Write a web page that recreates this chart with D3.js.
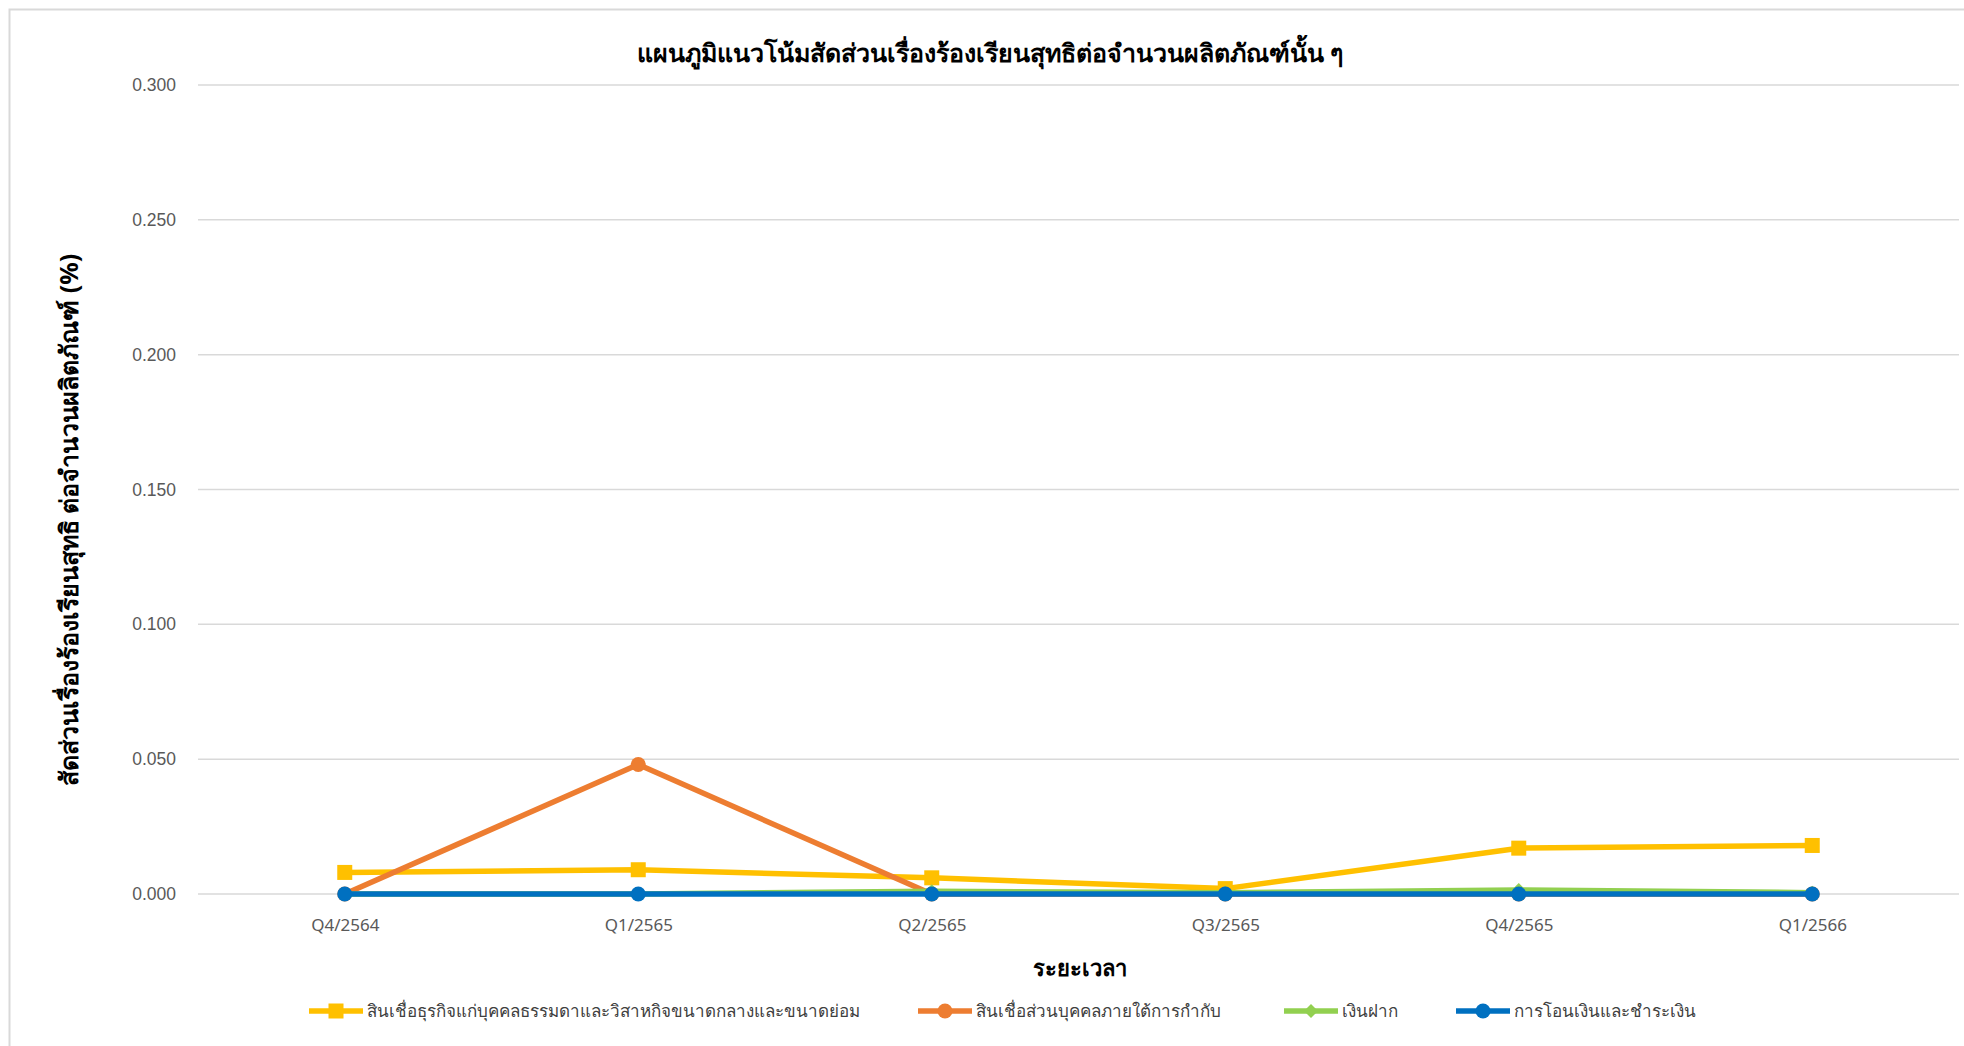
<!DOCTYPE html>
<html>
<head>
<meta charset="utf-8">
<script src="https://cdn.jsdelivr.net/npm/d3@7"></script>
<style>
body { margin:0; background:#fff; }
svg text { font-family: "Noto Sans", "Liberation Sans", sans-serif; }
</style>
</head>
<body>
<div class="lineChart"></div>
<script>
// data
var periods = ["Q4/2564", "Q1/2565", "Q2/2565", "Q3/2565", "Q4/2565", "Q1/2566"];
var yTicks = [0, 0.05, 0.1, 0.15, 0.2, 0.25, 0.3];
var smeLoans = [0.008, 0.009, 0.006, 0.002, 0.017, 0.018];
var personalLoans = [0, 0.048, 0, 0, 0, 0];
var deposits = [0, 0, 0.001, 0.0005, 0.0015, 0.0005];
var transfers = [0, 0, 0, 0, 0, 0];
var seriesNames = ["สินเชื่อธุรกิจแก่บุคคลธรรมดาและวิสาหกิจขนาดกลางและขนาดย่อม",
                   "สินเชื่อส่วนบุคคลภายใต้การกำกับ", "เงินฝาก", "การโอนเงินและชำระเงิน"];
var colors = ["#FFC000", "#ED7D31", "#92D050", "#0070C0"];
var markers = ["square", "circle", "diamond", "circle"];

var series = [smeLoans, personalLoans, deposits, transfers].map(function(v, i) {
	return { name: seriesNames[i], values: v, color: colors[i], marker: markers[i] };
});

var width = 1964, height = 1046;
var plotLeft = 198, plotRight = 1959, plotTop = 85, plotBottom = 894;

var svg = d3.select(".lineChart").append("svg")
	.attr("width", width).attr("height", height);

// chart frame
svg.append("rect").attr("x", 9.5).attr("y", 9.5)
	.attr("width", width).attr("height", height)
	.attr("fill", "none").attr("stroke", "#d9d9d9").attr("stroke-width", 2);

var x = d3.scalePoint().domain(periods).range([plotLeft, plotRight]).padding(0.5);
var y = d3.scaleLinear().domain([0, 0.3]).range([plotBottom, plotTop]);

// gridlines
svg.append("g").selectAll("line").data(yTicks).enter().append("line")
	.attr("x1", plotLeft).attr("x2", plotRight)
	.attr("y1", function(d) { return y(d); }).attr("y2", function(d) { return y(d); })
	.attr("stroke", "#d9d9d9").attr("stroke-width", 1.5);

// y axis labels
var yAxis = svg.append("g").attr("transform", "translate(" + (plotLeft - 22) + ",0)")
	.call(d3.axisLeft(y).tickValues(yTicks).tickFormat(d3.format(".3f")).tickSize(0));
yAxis.select(".domain").remove();
yAxis.selectAll("text").attr("fill", "#595959").style("font-size", "17.5px")
	.style("font-family", "Liberation Sans, sans-serif").attr("x", 0);

// x axis labels
var xAxis = svg.append("g").attr("transform", "translate(0," + (plotBottom + 22) + ")")
	.call(d3.axisBottom(x).tickSize(0));
xAxis.select(".domain").remove();
xAxis.selectAll("text").attr("fill", "#595959").style("font-size", "17px");

// lines
var line = d3.line()
	.x(function(d, i) { return x(periods[i]); })
	.y(function(d) { return y(d); });

function drawMarker(parent, cx, cy, s) {
	if (s.marker === "square") {
		parent.append("rect").attr("x", cx - 7.5).attr("y", cy - 7.5)
			.attr("width", 15).attr("height", 15).attr("fill", s.color);
	} else if (s.marker === "diamond") {
		parent.append("path")
			.attr("d", "M" + cx + "," + (cy - 7) + "L" + (cx + 7) + "," + cy + "L" + cx + "," + (cy + 7) + "L" + (cx - 7) + "," + cy + "Z")
			.attr("fill", s.color);
	} else {
		parent.append("circle").attr("cx", cx).attr("cy", cy).attr("r", 7.5).attr("fill", s.color);
	}
}

// draw in order so blue ends on top
var g = svg.append("g");
series.forEach(function(s) {
	g.append("path").datum(s.values)
		.attr("d", line).attr("fill", "none")
		.attr("stroke", s.color).attr("stroke-width", 5.5)
		.attr("stroke-linejoin", "round");
	s.values.forEach(function(v, i) {
		drawMarker(g, x(periods[i]), y(v), s);
	});
});

// title
svg.append("text").attr("x", 990).attr("y", 62).attr("text-anchor", "middle")
	.style("font-size", "25px").style("font-weight", "bold").attr("fill", "#000")
	.text("แผนภูมิแนวโน้มสัดส่วนเรื่องร้องเรียนสุทธิต่อจำนวนผลิตภัณฑ์นั้น ๆ");

// axis titles
svg.append("text").attr("x", 1080).attr("y", 976).attr("text-anchor", "middle")
	.style("font-size", "22px").style("font-weight", "bold").attr("fill", "#000")
	.text("ระยะเวลา");

svg.append("text").attr("transform", "translate(78,520) rotate(-90)")
	.attr("text-anchor", "middle")
	.style("font-size", "25px").style("font-weight", "bold").attr("fill", "#000")
	.text("สัดส่วนเรื่องร้องเรียนสุทธิ ต่อจำนวนผลิตภัณฑ์ (%)");

// legend
var legendX = [309, 918, 1284, 1456];
var legend = svg.append("g");
series.forEach(function(s, i) {
	var lx = legendX[i], ly = 1011;
	legend.append("line").attr("x1", lx).attr("x2", lx + 54)
		.attr("y1", ly).attr("y2", ly)
		.attr("stroke", s.color).attr("stroke-width", 5.5);
	drawMarker(legend, lx + 27, ly, s);
	legend.append("text").attr("x", lx + 58).attr("y", ly + 6)
		.style("font-size", "17px").attr("fill", "#404040")
		.text(s.name);
});
</script>
</body>
</html>
